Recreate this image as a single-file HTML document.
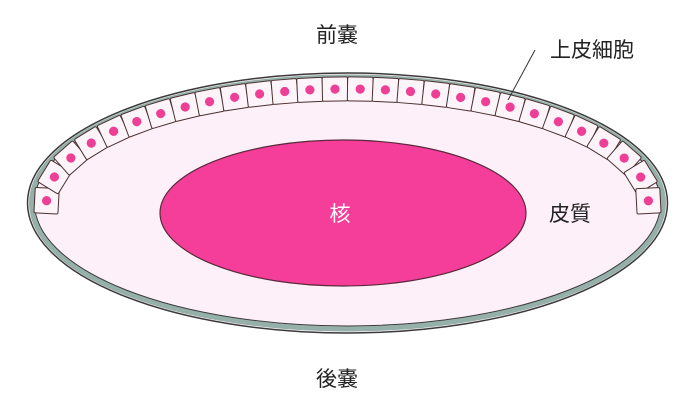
<!DOCTYPE html>
<html><head><meta charset="utf-8"><style>
html,body{margin:0;padding:0;background:#fff;}
svg{display:block;}
text{font-family:"Liberation Sans","Noto Sans CJK JP",sans-serif;}
</style></head><body>
<svg id="s" width="700" height="416" viewBox="0 0 700 416" xmlns="http://www.w3.org/2000/svg">
<ellipse cx="347.5" cy="203" rx="320" ry="130" fill="#fdf0f8" stroke="#3a3a3a" stroke-width="1.5"/>
<ellipse cx="347.5" cy="203" rx="316" ry="126" fill="none" stroke="#94b0a8" stroke-width="5"/>
<ellipse cx="347.5" cy="203" rx="313" ry="123" fill="none" stroke="#3a3a3a" stroke-width="1"/>
<g id="cells"></g>
<ellipse cx="343" cy="213" rx="183" ry="73" fill="#f53d9a" stroke="#5a2a3a" stroke-width="1.2"/>
<text x="340" y="221" font-size="21" fill="#fff" text-anchor="middle">核</text>
<text x="337" y="42" font-size="21" fill="#222" text-anchor="middle">前嚢</text>
<text x="337" y="386" font-size="21" fill="#222" text-anchor="middle">後嚢</text>
<text x="592" y="57" font-size="21" fill="#222" text-anchor="middle">上皮細胞</text>
<text x="570" y="221" font-size="21" fill="#222" text-anchor="middle">皮質</text>
<line x1="535" y1="50" x2="508" y2="100" stroke="#333" stroke-width="1"/>
</svg>
<script>
(function(){
var g=document.getElementById('cells'),cx=347.5,cy=203,a=301,b=114;
var pts=[],t0=-0.09,t1=Math.PI+0.09,N=4000;
var prev=null,L=0,arr=[];
for(var i=0;i<=N;i++){var t=t0+(t1-t0)*i/N;var x=cx-a*Math.cos(t),y=cy-b*Math.sin(t);
if(prev)L+=Math.hypot(x-prev[0],y-prev[1]);arr.push([x,y,L,t]);prev=[x,y];}
var n=Math.round(L/25.5),step=L/n,j=0,h='';
for(var k=0;k<n;k++){var s=step*(k+0.5);while(arr[j][2]<s)j++;
var p=arr[j],t=p[3];var dx=a*Math.sin(t),dy=-b*Math.cos(t);var ang=Math.atan2(dy,dx)*180/Math.PI;
h+='<g transform="translate('+p[0].toFixed(1)+','+p[1].toFixed(1)+') rotate('+ang.toFixed(1)+')"><rect x="-12.7" y="-12" width="25.4" height="24" rx="1.5" fill="#fdf4fa" stroke="#4a3030" stroke-width="1"/><circle r="4.6" fill="#ee3f96"/></g>';}
g.innerHTML=h;
})();
</script>
</body></html>
